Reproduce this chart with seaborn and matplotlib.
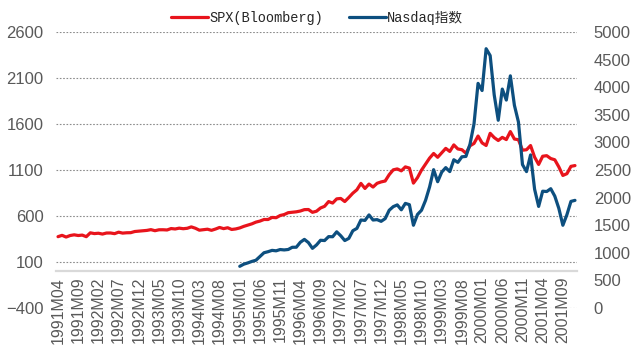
import numpy as np
import pandas as pd
import matplotlib
matplotlib.use("Agg")
import matplotlib.pyplot as plt
import seaborn as sns

# monthly closes, 1991M04 .. 2001M12
spx = [375.3, 389.8, 371.2, 387.8, 395.4, 387.9, 392.5, 375.2, 417.1,
       408.8, 412.7, 403.7, 415.0, 415.4, 408.1, 424.2, 414.0, 417.8, 418.7, 431.4, 435.7,
       438.8, 443.4, 451.7, 440.2, 450.2, 450.5, 448.1, 463.6, 458.9, 467.8, 461.8, 466.5,
       481.6, 467.1, 445.8, 450.9, 456.5, 444.3, 458.3, 475.5, 462.7, 472.4, 453.7, 459.3,
       470.4, 487.4, 500.7, 514.7, 533.4, 544.8, 562.1, 561.9, 584.4, 581.5, 605.4, 615.9,
       636.0, 640.4, 645.5, 654.2, 669.1, 670.6, 640.0, 652.0, 687.3, 705.3, 757.0, 740.7,
       786.2, 790.8, 757.1, 801.3, 848.3, 885.1, 954.3, 899.5, 947.3, 914.6, 955.4, 970.4,
       980.3, 1049.3, 1101.8, 1111.8, 1090.8, 1133.8, 1120.7, 957.3, 1017.0, 1098.7, 1163.6, 1229.2,
       1279.6, 1238.3, 1286.4, 1335.2, 1301.8, 1372.7, 1328.7, 1320.4, 1282.7, 1362.9, 1388.9, 1469.3,
       1394.5, 1366.4, 1498.6, 1452.4, 1420.6, 1454.6, 1430.8, 1517.7, 1436.5, 1429.4, 1315.0, 1320.3,
       1366.0, 1239.9, 1160.3, 1249.5, 1255.8, 1224.4, 1211.2, 1133.6, 1040.9, 1059.8, 1139.5, 1148.1]

# Nasdaq, 1995M01 .. 2001M12
nasdaq = [755, 794, 817, 844, 865, 933, 1001, 1020, 1044, 1036, 1059, 1052,
          1060, 1100, 1101, 1191, 1243, 1185, 1081, 1142, 1227, 1222, 1293, 1291,
          1380, 1309, 1222, 1261, 1400, 1442, 1594, 1587, 1686, 1594, 1601, 1570,
          1619, 1771, 1836, 1868, 1779, 1895, 1872, 1499, 1694, 1771, 1950, 2193,
          2506, 2288, 2461, 2543, 2471, 2686, 2638, 2739, 2746, 2966, 3336, 4069,
          3940, 4697, 4573, 3861, 3401, 3966, 3767, 4206, 3673, 3370, 2598, 2471,
          2773, 2152, 1840, 2116, 2110, 2161, 2027, 1805, 1499, 1690, 1931, 1950]

months = []
y, m = 1991, 4
for _ in spx:
    months.append(f"{y}M{m:02d}")
    m += 1
    if m > 12:
        y, m = y + 1, 1

nasdaq_start = months.index("1995M01")
idx = np.arange(len(months))

sns.set_style("white")
plt.rcParams["font.family"] = ["Liberation Sans", "DejaVu Sans"]

fig, ax = plt.subplots(figsize=(6.34, 3.58), dpi=100)
fig.subplots_adjust(left=56/634, right=577/634, top=1-32/358, bottom=1-308/358)
ax2 = ax.twinx()

red = "#E8141C"
blue = "#0D4F7F"
sns.lineplot(x=idx, y=spx, ax=ax, color=red, lw=2.3, label="SPX(Bloomberg)", legend=False)
sns.lineplot(x=idx[nasdaq_start:], y=nasdaq, ax=ax2, color=blue, lw=2.3, label="Nasdaq指数", legend=False)

ax.set_xlim(-0.5, len(months) - 0.5)
ax.set_ylim(-400, 2600)
ax.set_yticks(np.arange(-400, 2601, 500))
ax2.set_ylim(0, 5000)
ax2.set_yticks(np.arange(0, 5001, 500))

ax.yaxis.grid(True, ls=(0, (1.5, 1.5)), color="#8C8C8C", lw=0.8)
ax.set_axisbelow(True)

for s in ["top", "right", "left"]:
    ax.spines[s].set_visible(False)
for s in ax2.spines.values():
    s.set_visible(False)
ax.spines["bottom"].set_position(("data", 0))
ax.spines["bottom"].set_color("#D9D9D9")
ax.spines["bottom"].set_linewidth(1.6)

ax.set_xticks(idx[::5])
ax.set_xticklabels(months[::5], rotation=90)
ax.tick_params(axis="x", length=0, pad=4, labelsize=11.5, colors="#595959")
ax.tick_params(axis="y", length=0, pad=9, labelsize=12, colors="#595959")
ax2.tick_params(axis="y", length=0, pad=12, labelsize=12, colors="#595959")
ax.set_xlabel("")
ax.set_ylabel("")
ax2.set_ylabel("")

h1, l1 = ax.get_legend_handles_labels()
h2, l2 = ax2.get_legend_handles_labels()
fig.legend(h1 + h2, l1 + l2, loc="center", bbox_to_anchor=(317/634, 1-18/358), ncol=2,
           frameon=False, handlelength=2.7, handletextpad=0.1, columnspacing=1.9,
           prop={"family": ["Liberation Mono", "Noto Sans CJK SC"], "size": 9.8})

fig.savefig("out.png", dpi=100)
